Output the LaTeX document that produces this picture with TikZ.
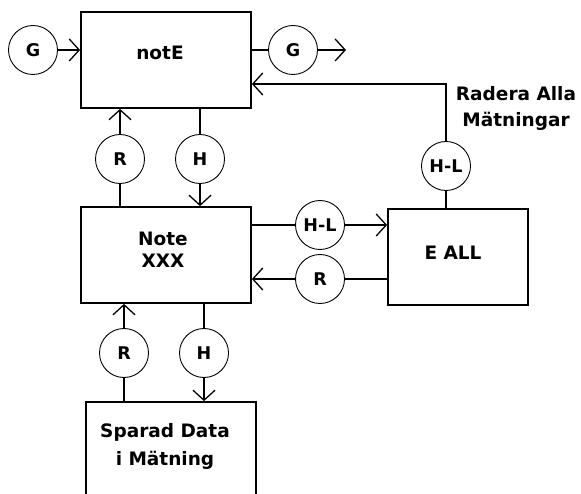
\documentclass[tikz,border=0pt]{standalone}
\usepackage{fontspec}
\setmainfont{DejaVu Sans}
\usetikzlibrary{arrows.meta}
\begin{document}
\begin{tikzpicture}[x=1pt,y=-1pt,
  box/.style={draw,line width=1.8pt,inner sep=0pt},
  lbl/.style={inner sep=0pt,align=center,font=\bfseries\fontsize{18.5}{22}\selectfont},
  sig/.style={draw,circle,line width=0.9pt,minimum size=49pt,inner sep=0pt,font=\bfseries\fontsize{17.5}{18}\selectfont},
  conn/.style={line width=1.7pt},
  arr/.style={conn,-{Straight Barb[length=10pt,width=22pt,line width=1.3pt]}}]
\useasboundingbox (0,0) rectangle (581,494);
% boxes
\node[box,minimum width=170pt,minimum height=96pt] (notE) at (166,60) {};
\node[lbl] (notEt) at (160,53) {notE};
\node[box,minimum width=170pt,minimum height=96pt] (note) at (166,255) {};
\node[lbl] (notet) at (163,250) {Note\\XXX};
\node[box,minimum width=140pt,minimum height=96pt] (eall) at (458,257) {};
\node[lbl] (eallt) at (453,253) {E ALL};
\node[box,minimum width=170pt,minimum height=120pt] (spar) at (171,462) {};
\node[lbl,font=\bfseries\fontsize{18.5}{28}\selectfont] (spart) at (165,446) {Sparad Data\\i Mätning};
\node[lbl,font=\bfseries\fontsize{18.5}{26}\selectfont] (rad) at (516,108) {Radera Alla\\Mätningar};
% signal circles
\node[sig] (gL) at (33,50) {G};
\node[sig] (gR) at (293,50) {G};
\coordinate (gout) at (346,50);
\node[sig] (hl1) at (446,166) {H-L};
\coordinate (k84) at (300,84);
\node[sig] (r1) at (120,159) {R};
\node[sig] (h1) at (200,159) {H};
\node[sig] (hl2) at (320,225) {H-L};
\node[sig] (r2) at (320,279) {R};
\node[sig] (r3) at (124,353) {R};
\node[sig] (h3) at (204,353) {H};
% connectors
\draw[arr] (gL.east) -- (gL.east -| notE.west);
\draw[conn] (notE.east |- gR.west) -- (gR.west);
\draw[arr] (gR.east) -- (gout);
\draw[arr] (hl1.north) |- (notE.east |- k84);
\draw[conn] (hl1.south) -- (hl1.south |- eall.north);
\draw[arr] (r1.north) -- (r1.north |- notE.south);
\draw[conn] (r1.south) -- (r1.south |- note.north);
\draw[conn] (h1.north |- notE.south) -- (h1.north);
\draw[arr] (h1.south) -- (h1.south |- note.north);
\draw[conn] (note.east |- hl2.west) -- (hl2.west);
\draw[arr] (hl2.east) -- (hl2.east -| eall.west);
\draw[conn] (eall.west |- r2.east) -- (r2.east);
\draw[arr] (r2.west) -- (r2.west -| note.east);
\draw[arr] (r3.north) -- (r3.north |- note.south);
\draw[conn] (r3.south) -- (r3.south |- spar.north);
\draw[conn] (h3.north |- note.south) -- (h3.north);
\draw[arr] (h3.south) -- (h3.south |- spar.north);
\end{tikzpicture}
\end{document}
